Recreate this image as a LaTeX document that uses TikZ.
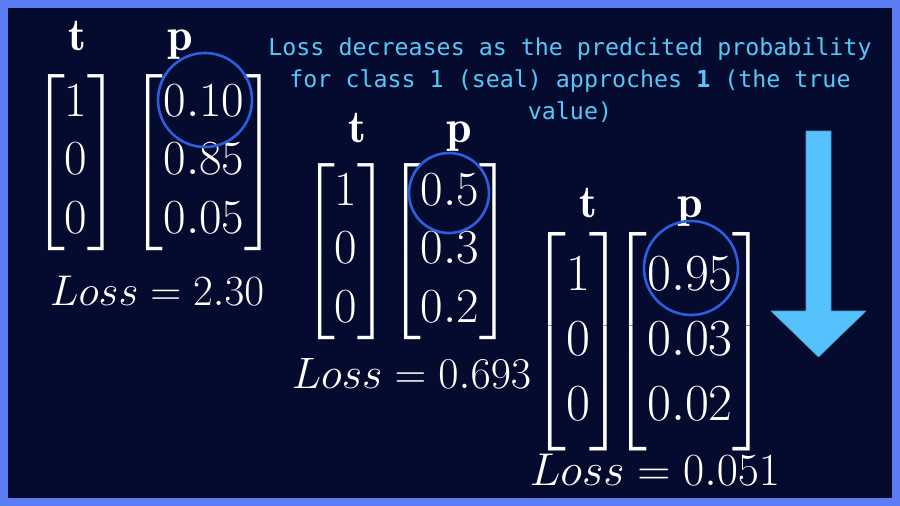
\RequirePackage{fix-cm} % scalable math fonts
\documentclass[tikz,border=0pt]{standalone}
\usepackage{amsmath,amssymb}
\usepackage{fontspec}
\setmonofont{DejaVu Sans Mono}
\usepackage{tikz}
\definecolor{navy}{HTML}{050B2E}
\definecolor{frameblue}{HTML}{5B7CF2}
\definecolor{ringblue}{HTML}{2B5FE0}
\definecolor{skyblue}{HTML}{55C2FD}
\definecolor{noteblue}{HTML}{55C8F8}

\begin{document}
\begin{tikzpicture}[x=1pt, y=-1pt, % 1 unit = 1 pixel, y downwards
    every node/.style={text=white, inner sep=0pt},
    vec/.style={font=\fontsize{49}{58.5}\selectfont}, % matrix entries
    bigvec/.style={font=\fontsize{52}{65}\selectfont},
    lbl/.style={anchor=base, font=\fontsize{46}{50}\selectfont},
    loss/.style={anchor=base, font=\fontsize{#1}{#1}\selectfont},
    ring/.style={circle, draw=ringblue, line width=2.6pt, minimum size=#1}]
    \useasboundingbox (0,0) rectangle (900,506);
    \fill[frameblue] (0,0) rectangle (900,506); % frame
    \fill[navy] (8,8) rectangle (892,498); % background

    % first pair
    \node[lbl] (tl1) at (77,50) {$\mathbf{t}$};
    \node[lbl] (pl1) at (180,50) {$\mathbf{p}$};
    \node[vec] (t1) at (76,163) {$\begin{bmatrix}1\\0\\0\end{bmatrix}$};
    \node[vec] (p1) at (204,163) {$\begin{bmatrix}0.10\\0.85\\0.05\end{bmatrix}$};
    \node[ring=94pt] (c1) at (205,100) {};
    \node[loss=43] (l1) at (157,305) {$Loss = 2.30$};

    % second pair
    \node[lbl] (tl2) at (357,142) {$\mathbf{t}$};
    \node[lbl] (pl2) at (459,142) {$\mathbf{p}$};
    \node[vec] (t2) at (346,252) {$\begin{bmatrix}1\\0\\0\end{bmatrix}$};
    \node[vec] (p2) at (450,252) {$\begin{bmatrix}0.5\\0.3\\0.2\end{bmatrix}$};
    \node[ring=80pt] (c2) at (449,193) {};
    \node[loss=44] (l2) at (411.5,388) {$Loss = 0.693$};

    % third pair
    \node[lbl] (tl3) at (588,217) {$\mathbf{t}$};
    \node[lbl] (pl3) at (690,217) {$\mathbf{p}$};
    \node[bigvec] (t3) at (578,342) {$\begin{bmatrix}1\\0\\0\end{bmatrix}$};
    \node[bigvec] (p3) at (690,342) {$\begin{bmatrix}0.95\\0.03\\0.02\end{bmatrix}$};
    \node[ring=94pt] (c3) at (691,268) {};
    \node[loss=46] (l3) at (655,485) {$Loss = 0.051$};

    % note and arrow
    \node[text=noteblue, align=center, font=\ttfamily\fontsize{23.3}{32}\selectfont]
      (note) at (570,80) {Loss decreases as the predcited probability\\
      for class 1 (seal) approches \textbf{1} (the true\\ value)};
    \fill[skyblue, draw=skyblue!80!black, line width=0.6pt]
      (806,131) -- (831,131) -- (831,311) -- (866,311) -- (818.5,357)
      -- (771,311) -- (806,311) -- cycle; % down arrow
\end{tikzpicture}
\end{document}
